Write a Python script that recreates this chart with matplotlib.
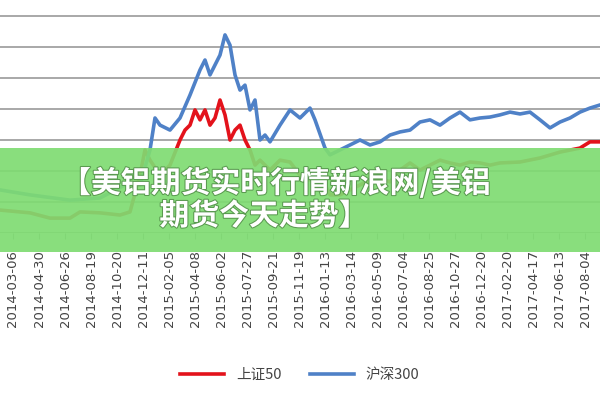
import matplotlib.pyplot as plt
import matplotlib.patches as patches
import matplotlib.patheffects as pe

plt.rcParams['font.family'] = ['Noto Sans CJK SC', 'DejaVu Sans']

dates = ["2014-03-06", "2014-04-30", "2014-06-26", "2014-08-19", "2014-10-20",
         "2014-12-11", "2015-02-05", "2015-04-08", "2015-06-02", "2015-07-27",
         "2015-09-21", "2015-11-19", "2016-01-13", "2016-03-14", "2016-05-09",
         "2016-07-04", "2016-08-25", "2016-10-27", "2016-12-20", "2017-02-20",
         "2017-04-17", "2017-06-13", "2017-08-04"]

# sample positions (trading-day index, scaled) and values
hs300_x = [0, 30, 70, 100, 125, 130, 140, 150, 155, 160, 170, 180, 190, 200, 205, 210, 215,
           220, 225, 230, 235, 240, 245, 250, 255, 260, 265, 270, 280, 290, 300, 310, 315,
           325, 330, 340, 350, 360, 370, 380, 390, 400, 410, 420, 430, 440, 450, 460, 470,
           480, 490, 500, 510, 520, 530, 540, 550, 560, 570, 580, 590, 600]
hs300 = [1.39, 1.23, 1.06, 1.13, 1.55, 1.61, 1.55, 2.68, 3.71, 3.48, 3.32, 3.71, 4.45, 5.26,
         5.58, 5.10, 5.42, 5.74, 6.39, 6.06, 5.10, 4.61, 4.77, 3.97, 4.29, 3.00, 3.16, 2.94,
         3.48, 3.97, 3.71, 4.03, 3.65, 2.74, 2.52, 2.68, 2.84, 3.00, 2.84, 2.94, 3.16, 3.26,
         3.32, 3.58, 3.65, 3.48, 3.71, 3.90, 3.65, 3.71, 3.74, 3.81, 3.90, 3.84, 3.90, 3.65,
         3.39, 3.58, 3.71, 3.90, 4.03, 4.13]

sz50_x = [0, 30, 50, 70, 80, 100, 120, 130, 140, 145, 150, 160, 170, 180, 185, 190, 195, 200,
          205, 210, 215, 220, 225, 230, 235, 240, 245, 250, 255, 260, 270, 280, 290, 300, 310,
          320, 330, 340, 350, 360, 370, 380, 390, 400, 410, 420, 430, 440, 450, 460, 470, 480,
          490, 500, 520, 540, 560, 580, 590, 600]
sz50 = [0.74, 0.65, 0.48, 0.48, 0.68, 0.65, 0.58, 0.68, 1.87, 2.68, 2.35, 1.87, 2.19, 3.00,
        3.32, 3.48, 3.97, 3.65, 3.97, 3.48, 3.71, 4.29, 3.81, 3.00, 3.32, 3.48, 3.00, 2.68,
        2.19, 2.35, 2.03, 2.35, 2.29, 1.87, 1.71, 1.87, 1.23, 1.23, 1.39, 1.55, 1.71, 1.77,
        1.65, 2.03, 2.26, 2.03, 2.19, 2.35, 2.26, 2.19, 2.29, 2.26, 2.19, 2.26, 2.29, 2.42,
        2.61, 2.74, 2.94, 2.94]

fig = plt.figure(figsize=(6, 4), dpi=100)
ax = fig.add_axes([0, 1 - 233 / 400, 1, 233 / 400])

ax.plot(sz50_x, sz50, color='#e3121b', linewidth=2.6, label='上证50', zorder=3)
ax.plot(hs300_x, hs300, color='#4f81c7', linewidth=2.6, label='沪深300', zorder=3)

ax.set_xlim(0, 600)
ax.set_ylim(0, 233 / 31)
ax.set_yticks(range(8))
ax.yaxis.grid(True, color='#9a9a9a', linewidth=1.2)
ax.set_yticklabels([])
ax.tick_params(axis='y', length=0)
ax.set_xticks([13 + 26 * i for i in range(len(dates))])
ax.set_xticklabels(dates, rotation=90, fontsize=9.5, color='#444444', family='DejaVu Sans')
ax.tick_params(axis='x', length=4, color='#999999', pad=8)
for s in ax.spines.values():
    s.set_visible(False)

leg = fig.legend(loc='center', bbox_to_anchor=(0.5, 1 - 375 / 400), ncol=2, frameon=False,
                 fontsize=10.5, handlelength=3, columnspacing=2)
for t in leg.get_texts():
    t.set_color('#444444')

# green banner with title
fig.patches.append(patches.Rectangle((0, 1 - 252 / 400), 1, 104 / 400, transform=fig.transFigure,
                                     facecolor='#7fdc72', alpha=0.92, zorder=5))
for txt, xp, yp in [("【美铝期货实时行情新浪网/美铝", 276, 183), ("期货今天走势】", 264, 216)]:
    fig.text(xp / 600, 1 - yp / 400, txt, ha='center', va='center', fontsize=21.5,
             fontweight='bold', color='white', zorder=6,
             path_effects=[pe.withStroke(linewidth=1.5, foreground='#5a9a50')])

fig.savefig('out.png', dpi=100)
